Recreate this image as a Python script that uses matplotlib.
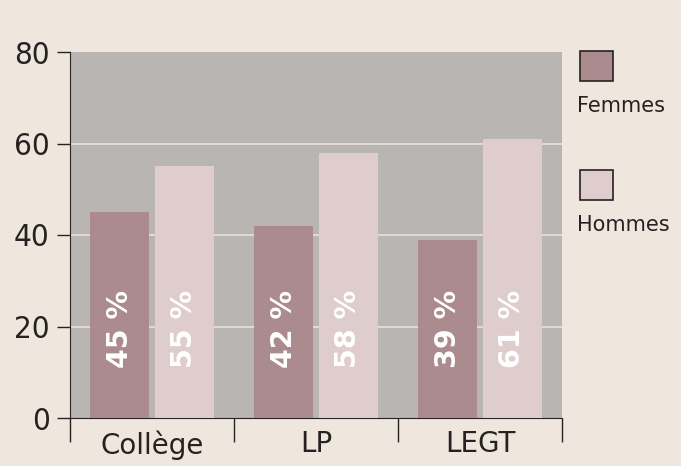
import numpy as np
import matplotlib.pyplot as plt
from matplotlib import font_manager
from matplotlib.patches import Rectangle

categories = ['Collège', 'LP', 'LEGT']
femmes = [45, 42, 39]
hommes = [55, 58, 61]
series_names = ['Femmes', 'Hommes']
yticks = [0, 20, 40, 60, 80]

c_fem = '#AB8B8E'
c_hom = '#DFCDCE'
bg = '#EFE6DD'
plot_bg = '#B9B5B2'
dark = '#262222'

# a narrow face for the y tick labels, if one is around
fonts = font_manager.fontManager.ttflist
if any(f.name == 'Liberation Sans Narrow' for f in fonts):
    tick_font = dict(family='Liberation Sans Narrow')
else:
    tick_font = dict(family='DejaVu Sans', fontstretch='condensed')

fig = plt.figure(figsize=(6.81, 4.66), dpi=100, facecolor=bg)
ax = fig.add_axes([70 / 681, 48 / 466, 492 / 681, 366 / 466])
ax.set_facecolor(plot_bg)

x = np.arange(len(categories))
w = 0.36
off = 0.198
ax.bar(x - off, femmes, w, color=c_fem, zorder=3)
ax.bar(x + off, hommes, w, color=c_hom, zorder=3)

# value labels, rotated, all at the same height
for xs, vals in [(x - off, femmes), (x + off, hommes)]:
    for xi, v in zip(xs, vals):
        ax.text(xi, 19.5, f'{v} %', rotation=90, ha='center', va='center',
                color='white', fontsize=20.5, fontweight='bold', family='DejaVu Sans', zorder=4)

ax.set_xlim(-0.5, 2.5)
ax.set_ylim(0, 80)
ax.set_yticks(yticks)
for t in yticks[1:-1]:
    ax.axhline(t, color='#E9E1DA', lw=1.2, zorder=1)

ax.set_yticklabels([str(t) for t in yticks], fontsize=22.5, color=dark, **tick_font)
ax.tick_params(axis='y', direction='out', length=9.5, width=1, color=dark, pad=5)

ax.set_xticks(x)
ax.set_xticklabels(categories, family='DejaVu Sans', fontsize=20, color=dark)
ax.tick_params(axis='x', which='major', length=0, pad=9)
ax.set_xticks([-0.5, 0.5, 1.5, 2.5], minor=True)
ax.tick_params(axis='x', which='minor', direction='out', length=17.5, width=1, color=dark)

for s in ['top', 'right']:
    ax.spines[s].set_visible(False)
ax.spines['left'].set_color(dark)
ax.spines['bottom'].set_color(dark)

# legend drawn by hand in figure coordinates
for i, (name, col) in enumerate(zip(series_names, [c_fem, c_hom])):
    top = 51 + i * 119
    fig.patches.append(Rectangle((580 / 681, 1 - (top + 30) / 466), 33 / 681, 30 / 466,
                                 transform=fig.transFigure, facecolor=col,
                                 edgecolor=dark, lw=1.2))
    fig.text(577 / 681, 1 - (top + 55) / 466, name, family='DejaVu Sans', fontsize=15,
             color=dark, ha='left', va='center')

fig.savefig('out.png', dpi=100, facecolor=bg)
